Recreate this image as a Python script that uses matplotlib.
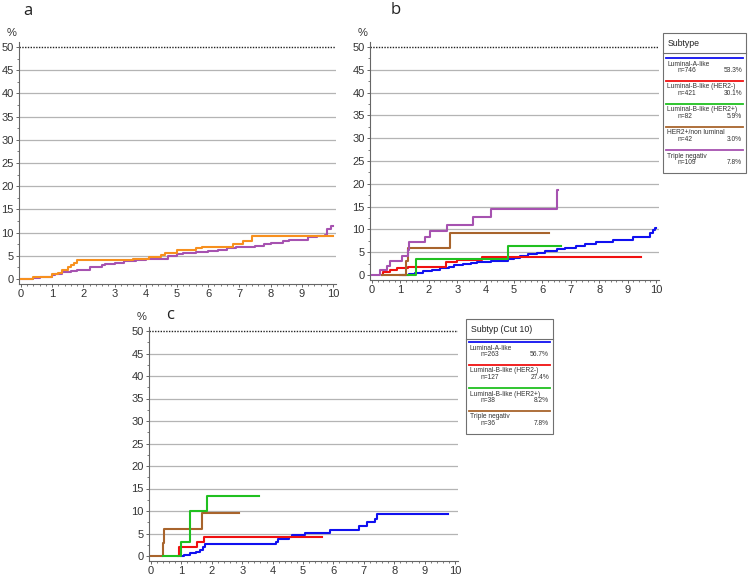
import matplotlib
matplotlib.use("Agg")
import matplotlib.pyplot as plt
from matplotlib.patches import Rectangle
from matplotlib.lines import Line2D
from matplotlib.ticker import MultipleLocator

plt.rcParams['font.family'] = ['Liberation Sans', 'DejaVu Sans']

# panel a
a_orange_x = [0, 0.4, 1.0, 1.2, 1.3, 1.5, 1.6, 1.7, 1.8, 3.6, 4.1, 4.5, 4.6, 5.0, 5.6, 5.8, 6.8, 7.1, 7.4, 10.0]
a_orange_y = [0, 0.5, 1.0, 1.4, 2.0, 2.5, 3.0, 3.5, 4.0, 4.3, 4.8, 5.2, 5.7, 6.2, 6.6, 7.0, 7.5, 8.1, 9.3, 9.3]
a_purple_x = [0, 0.4, 0.6, 1.0, 1.1, 1.3, 1.6, 1.8, 2.2, 2.6, 2.7, 3.0, 3.3, 3.7, 4.0, 4.7, 5.0, 5.2, 5.6,
              6.0, 6.3, 6.6, 6.9, 7.5, 7.8, 8.0, 8.4, 8.6, 9.2, 9.5, 9.75, 9.8, 9.95, 10.0]
a_purple_y = [0, 0.3, 0.5, 0.8, 1.0, 1.5, 1.8, 2.0, 2.5, 3.0, 3.3, 3.5, 3.8, 4.0, 4.3, 5.0, 5.3, 5.5, 5.8,
              6.0, 6.3, 6.7, 7.0, 7.2, 7.5, 7.8, 8.2, 8.5, 9.0, 9.3, 9.5, 10.8, 11.5, 11.5]

# panel b
b_blue_x = [1.0, 1.3, 1.5, 1.8, 2.1, 2.4, 2.7, 2.9, 3.2, 3.5, 3.7, 4.2, 4.8, 5.0, 5.2, 5.5, 5.8, 6.1, 6.5,
            6.8, 7.2, 7.5, 7.9, 8.5, 9.2, 9.8, 9.9, 9.97, 10.0]
b_blue_y = [0, 0.3, 0.5, 0.8, 1.1, 1.5, 1.8, 2.1, 2.4, 2.7, 2.9, 3.1, 3.4, 3.8, 4.2, 4.5, 4.9, 5.3, 5.6,
            6.0, 6.4, 6.8, 7.2, 7.6, 8.3, 9.2, 9.8, 10.3, 10.3]
b_red_x = [0.35, 0.4, 0.64, 0.88, 1.27, 2.6, 3.0, 3.87, 9.47]
b_red_y = [0, 0.6, 1.0, 1.5, 1.8, 2.8, 3.3, 4.0, 4.0]
b_green_x = [1.1, 1.56, 4.8, 6.65]
b_green_y = [0, 3.5, 6.4, 6.4]
b_brown_x = [0.35, 1.2, 1.28, 2.75, 6.23]
b_brown_y = [0, 3.0, 5.9, 9.2, 9.2]
b_purple_x = [0, 0.29, 0.53, 0.64, 1.05, 1.25, 1.32, 1.85, 2.05, 2.64, 3.55, 4.2, 6.5, 6.55]
b_purple_y = [0, 1.0, 2.0, 3.0, 4.1, 5.5, 7.2, 8.3, 9.6, 10.9, 12.8, 14.5, 18.7, 18.7]

# panel c
c_blue_x = [1.0, 1.09, 1.29, 1.48, 1.62, 1.7, 1.77, 4.1, 4.17, 4.54, 4.64, 5.05, 5.88, 6.83, 7.1, 7.38, 7.45, 9.78]
c_blue_y = [0, 0.3, 0.6, 1.0, 1.4, 2.0, 2.6, 3.2, 3.7, 4.2, 4.7, 5.2, 5.8, 6.7, 7.5, 8.3, 9.3, 9.3]
c_red_x = [0.9, 0.93, 1.51, 1.75, 5.63]
c_red_y = [0, 2.0, 3.1, 4.3, 4.3]
c_green_x = [0.4, 1.0, 1.27, 1.29, 1.84, 3.55]
c_green_y = [0, 3.2, 6.5, 10.0, 13.3, 13.3]
c_brown_x = [0, 0.38, 0.44, 1.68, 2.9]
c_brown_y = [0, 3.0, 6.1, 9.6, 9.6]

b_names = ["Luminal-A-like", "Luminal-B-like (HER2-)", "Luminal-B-like (HER2+)", "HER2+/non luminal", "Triple negativ"]
b_n = ["n=746", "n=421", "n=82", "n=42", "n=109"]
b_pct = ["53.3%", "30.1%", "5.9%", "3.0%", "7.8%"]
c_names = ["Luminal-A-like", "Luminal-B-like (HER2-)", "Luminal-B-like (HER2+)", "Triple negativ"]
c_n = ["n=263", "n=127", "n=38", "n=36"]
c_pct = ["56.7%", "27.4%", "8.2%", "7.8%"]

BLUE = "#1010f0"
RED = "#f01010"
GREEN = "#20c020"
BROWN = "#a8642c"
PURPLE = "#a652b0"
ORANGE = "#f7901e"

W, H = 749, 579
fig = plt.figure(figsize=(W / 100, H / 100), dpi=100)

XMIN, XMAX, YMIN, YMAX = -0.06, 10.1, -1.0, 51.0


def make_ax(x0, x10, y0, y50):
    sx = (x10 - x0) / 10.0
    sy = (y0 - y50) / 50.0
    left = x0 + XMIN * sx
    right = x0 + XMAX * sx
    top = y0 - YMAX * sy
    bottom = y0 - YMIN * sy
    ax = fig.add_axes([left / W, 1 - bottom / H, (right - left) / W, (bottom - top) / H])
    ax.set_xlim(XMIN, XMAX)
    ax.set_ylim(YMIN, YMAX)
    for y in range(5, 50, 5):
        ax.axhline(y, color="#b4b4b4", lw=0.9, zorder=1)
    ax.axhline(50, color="#222222", lw=1.0, ls=(0, (1, 1)), zorder=1)
    for s in ["top", "right"]:
        ax.spines[s].set_visible(False)
    for s in ["left", "bottom"]:
        ax.spines[s].set_color("#666666")
        ax.spines[s].set_linewidth(0.8)
    ax.set_xticks(range(0, 11))
    ax.set_yticks(range(0, 51, 5))
    ax.xaxis.set_minor_locator(MultipleLocator(0.2))
    ax.yaxis.set_minor_locator(MultipleLocator(2.5))
    ax.tick_params(axis="both", which="major", labelsize=8, colors="#666666", labelcolor="#333333",
                   length=2.5, width=0.7, pad=1.5)
    ax.tick_params(axis="both", which="minor", colors="#666666", length=1.6, width=0.6)
    fig.text((x0 - 14) / W, 1 - (y50 - 14) / H, "%", fontsize=8, color="#333333", ha="left", va="center")
    return ax


def legend_box(l, r, t, b, title, hline, rows, colors, names, ns, pcts):
    tf = fig.transFigure
    fig.add_artist(Rectangle((l / W, 1 - b / H), (r - l) / W, (b - t) / H, transform=tf,
                             fill=False, edgecolor="#707070", lw=0.8))
    fig.add_artist(Line2D([l / W, r / W], [1 - hline / H] * 2, transform=tf, color="#707070", lw=0.8))
    fig.text((l + 5) / W, 1 - (t + (hline - t) / 2) / H, title, fontsize=6.3, color="#222222", va="center")
    for yy, col, nm, n, p in zip(rows, colors, names, ns, pcts):
        fig.add_artist(Line2D([(l + 3) / W, (r - 3) / W], [1 - yy / H] * 2, transform=tf, color=col, lw=1.3))
        fig.text((l + 4) / W, 1 - (yy + 6) / H, nm, fontsize=4.8, color="#333333", va="center")
        fig.text((l + 15) / W, 1 - (yy + 12.5) / H, n, fontsize=4.8, color="#333333", va="center")
        fig.text((r - 4) / W, 1 - (yy + 12.5) / H, p, fontsize=4.8, color="#333333", va="center", ha="right")


lw = 1.5
letter_font = ["Open Sans", "DejaVu Sans"]

ax_a = make_ax(21, 333, 279, 47)
ax_a.step(a_purple_x, a_purple_y, where="post", color=PURPLE, lw=lw, zorder=3)
ax_a.step(a_orange_x, a_orange_y, where="post", color=ORANGE, lw=lw, zorder=4)
fig.text(28 / W, 1 - 11 / H, "a", fontsize=12, color="#222222", ha="center", va="center", family=letter_font)

ax_b = make_ax(372, 656, 275, 47)
ax_b.step(b_blue_x, b_blue_y, where="post", color=BLUE, lw=lw, zorder=3)
ax_b.step(b_red_x, b_red_y, where="post", color=RED, lw=lw, zorder=3)
ax_b.step(b_green_x, b_green_y, where="post", color=GREEN, lw=lw, zorder=3)
ax_b.step(b_brown_x, b_brown_y, where="post", color=BROWN, lw=lw, zorder=3)
ax_b.step(b_purple_x, b_purple_y, where="post", color=PURPLE, lw=lw, zorder=3)
fig.text(396 / W, 1 - 10 / H, "b", fontsize=12, color="#222222", ha="center", va="center", family=letter_font)

ax_c = make_ax(151, 455, 556, 331)
ax_c.step(c_blue_x, c_blue_y, where="post", color=BLUE, lw=lw, zorder=3)
ax_c.step(c_red_x, c_red_y, where="post", color=RED, lw=lw, zorder=3)
ax_c.step(c_brown_x, c_brown_y, where="post", color=BROWN, lw=lw, zorder=3)
ax_c.step(c_green_x, c_green_y, where="post", color=GREEN, lw=lw, zorder=3)
fig.text(170 / W, 1 - 315 / H, "c", fontsize=12, color="#222222", ha="center", va="center", family=letter_font)

legend_box(663, 746, 33, 173, "Subtype", 53, [58, 81, 104, 127, 150],
           [BLUE, RED, GREEN, BROWN, PURPLE], b_names, b_n, b_pct)
legend_box(466, 553, 319, 434, "Subtyp (Cut 10)", 339, [342, 365, 388, 411],
           [BLUE, RED, GREEN, BROWN], c_names, c_n, c_pct)

fig.savefig("out.png", dpi=100)
